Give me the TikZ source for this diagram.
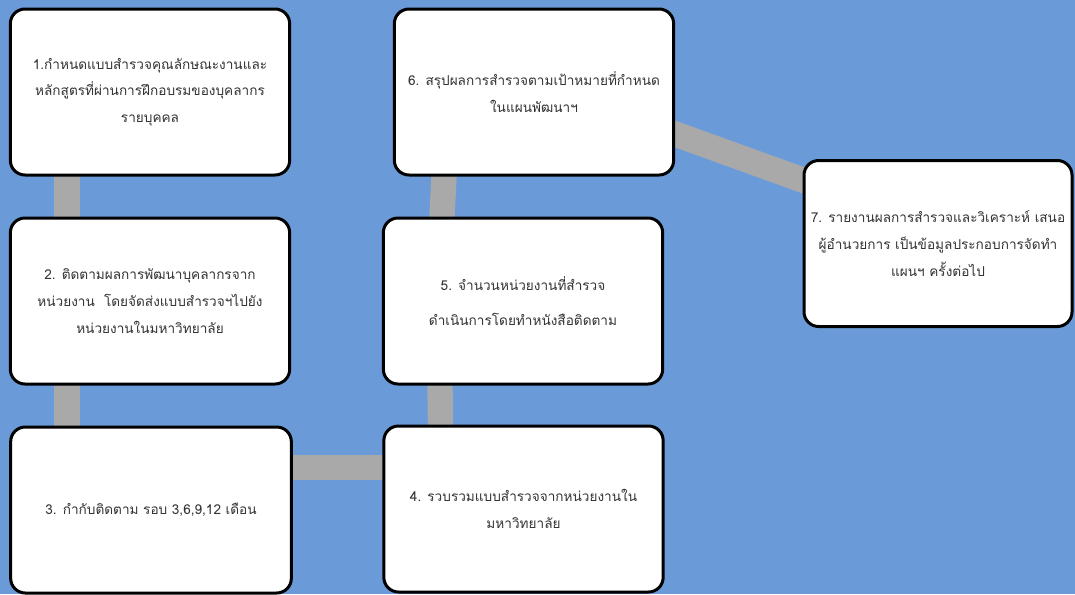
\documentclass[tikz,border=0pt]{standalone}
\usepackage{fontspec}
\newfontfamily\thaifont[Script=Thai]{Loma}
\usetikzlibrary{calc,backgrounds}
\definecolor{bgblue}{RGB}{106,155,216}
\definecolor{linkgray}{RGB}{169,169,169}
\begin{document}
\begin{tikzpicture}[x=0.75pt,y=-0.75pt,
    box/.style={draw=black,line width=2.25pt,fill=white,rounded corners=11pt,
        minimum width=209.5pt,minimum height=124.5pt,align=center,
        font=\thaifont\fontsize{10.2}{20}\selectfont,text=black!80},
    link/.style={linkgray,line width=19pt,shorten <=-8pt,shorten >=-8pt}]
    \useasboundingbox (0,0) rectangle (1075,594);
    \node[box] (s1) at (150,92) {1.กำหนดแบบสำรวจคุณลักษณะงานและ\\หลักสูตรที่ผ่านการฝึกอบรมของบุคลากร\\รายบุคคล};
    \node[box] (s2) at (150,301) {2. ติดตามผลการพัฒนาบุคลากรจาก\\หน่วยงาน\ \ โดยจัดส่งแบบสำรวจฯไปยัง\\หน่วยงานในมหาวิทยาลัย};
    \node[box,minimum width=210.5pt] (s3) at (151,510) {3. กำกับติดตาม รอบ 3,6,9,12 เดือน};
    \node[box] (s4) at (523.5,509) {4. รวบรวมแบบสำรวจจากหน่วยงานใน\\มหาวิทยาลัย};
    \node[box] (s5) at (523,301) {5. จำนวนหน่วยงานที่สำรวจ\\[6pt]ดำเนินการโดยทำหนังสือติดตาม};
    \node[box] (s6) at (534,92) {6. สรุปผลการสำรวจตามเป้าหมายที่กำหนด\\ในแผนพัฒนาฯ};
    \node[box,minimum width=201pt] (s7) at (938,243.5) {7. รายงานผลการสำรวจและวิเคราะห์ เสนอ\\ผู้อำนวยการ เป็นข้อมูลประกอบการจัดทำ\\แผนฯ ครั้งต่อไป};
    \begin{scope}[on background layer]
        \fill[bgblue] (0,0) rectangle (1075,594);
        \draw[link] ($(s1.south)+(-83,0)$) -- ($(s2.north)+(-83,0)$);
        \draw[link] ($(s2.south)+(-83,0)$) -- ($(s3.north)+(-84,0)$);
        \draw[link] ($(s3.east)+(0,-42.5)$) -- ($(s4.west)+(0,-41.5)$);
        \draw[link] ($(s4.north)+(-83,0)$) -- ($(s5.south)+(-83,0)$);
        \draw[link] ($(s5.north)+(-81,0)$) -- ($(s6.south)+(-90,0)$);
        \draw[link] ($(s6.east)+(0,42)$) -- ($(s7.west)+(0,-63.5)$);
    \end{scope}
\end{tikzpicture}
\end{document}
